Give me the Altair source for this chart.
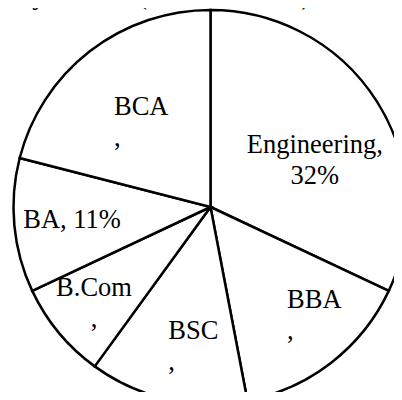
import altair as alt
import pandas as pd

# ---- data ----
courses = ["Engineering", "BBA", "BSC", "B.Com", "BA", "BCA"]
shares = [32, 15, 13, 8, 11, 21]
labels = ["Engineering,\n32%", "BBA\n,", "BSC\n,", "B.Com\n,", "BA, 11%", "BCA\n,"]
title_text = "Boys : Girls (in each course) = 3 : 4"

df = pd.DataFrame({
    "course": courses,
    "share": shares,
    "label": labels,
    "order": list(range(len(courses))),
})

# ---- layout / style ----
W, H = 386, 384
CX, CY = 202.5, 199
R = 197
FONT = "Liberation Serif"
FS = 26.5
LABEL_R = 120
label_style = {
    "Engineering": dict(align="center", dx=3, dy=10),
    "BBA": dict(align="left", dx=3, dy=6),
    "BSC": dict(align="left", dx=-16, dy=15),
    "B.Com": dict(align="center", dx=-24, dy=13),
    "BA": dict(align="center", dx=-19, dy=10),
    "BCA": dict(align="left", dx=-23, dy=3),
}

theta_scale = alt.Scale(domain=[0, 100])

pie = alt.Chart(df).mark_arc(
    outerRadius=R, fill="white", stroke="black", strokeWidth=2.5
).encode(
    theta=alt.Theta("share:Q", stack=True, scale=theta_scale),
    order=alt.Order("order:Q"),
    x=alt.value(CX),
    y=alt.value(CY),
)

label_base = (
    alt.Chart(df)
    .transform_window(cum="sum(share)", sort=[alt.SortField("order")])
    .transform_calculate(mid="datum.cum - datum.share / 2")
)

layers = [pie]
for c in courses:
    st = label_style[c]
    layers.append(
        label_base.mark_text(
            radius=LABEL_R,
            font=FONT,
            fontSize=FS,
            color="black",
            baseline="alphabetic",
            lineBreak="\n",
            lineHeight=31,
            **st,
        )
        .encode(
            theta=alt.Theta("mid:Q", stack=False, scale=theta_scale),
            text="label:N",
            x=alt.value(CX),
            y=alt.value(CY),
        )
        .transform_filter(alt.datum.course == c)
    )

title = alt.Chart(pd.DataFrame({"t": [title_text]})).mark_text(
    font=FONT, fontSize=27, color="black", align="center", baseline="alphabetic"
).encode(text="t:N", x=alt.value(186), y=alt.value(-4))
layers.append(title)

chart = (
    alt.layer(*layers)
    .properties(width=W, height=H, padding=0, autosize=alt.AutoSizeParams(type="none"))
    .configure_view(stroke=None)
)

chart.save("out.html", embed_options={"renderer": "svg", "actions": False})
